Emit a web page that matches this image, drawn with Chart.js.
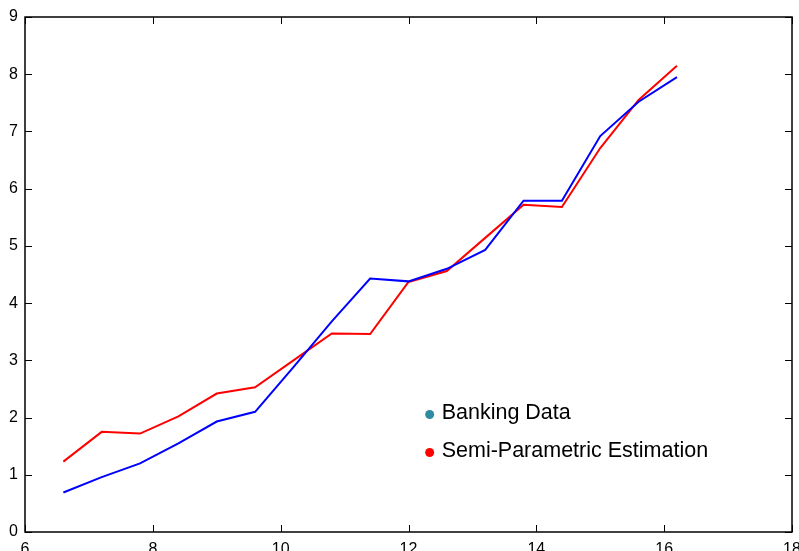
<!DOCTYPE html>
<html>
<head>
<meta charset="utf-8">
<script src="https://cdn.jsdelivr.net/npm/chart.js@4.4.1/dist/chart.umd.min.js"></script>
<style>
  html, body { margin: 0; padding: 0; background: #fff; }
  #wrap { width: 799px; height: 551px; }
</style>
</head>
<body>
<div id="wrap"><canvas id="chart" width="799" height="551"></canvas></div>
<script>
// values
const xValues = [6.6, 7.2, 7.8, 8.4, 9.0, 9.6, 10.2, 10.8, 11.4, 12.0, 12.6, 13.2, 13.8, 14.4, 15.0, 15.6, 16.2];
const bankingData = [0.69, 0.96, 1.20, 1.55, 1.93, 2.10, 2.88, 3.68, 4.43, 4.38, 4.60, 4.93, 5.79, 5.79, 6.92, 7.52, 7.95];
const semiParam = [1.23, 1.75, 1.72, 2.02, 2.42, 2.53, 3.00, 3.47, 3.46, 4.37, 4.56, 5.14, 5.72, 5.68, 6.71, 7.55, 8.15];
const seriesLabels = ['Banking Data', 'Semi-Parametric Estimation'];
const legendDots = ['#2f8aa3', '#ff0000'];
const xTicks = [6, 8, 10, 12, 14, 16, 18];
const yTicks = [0, 1, 2, 3, 4, 5, 6, 7, 8, 9];

const fontFamily = '"Liberation Sans", Arial, sans-serif';
const toPoints = ys => ys.map((y, i) => ({ x: xValues[i], y: y }));

// box round the plot, inward ticks on all four sides, and the inset legend
const framePlugin = {
    id: 'frame',
    afterDraw(chart) {
        const ctx = chart.ctx;
        const a = chart.chartArea;
        const xs = chart.scales.x, ys = chart.scales.y;
        const len = 7;
        ctx.save();
        ctx.strokeStyle = '#000';
        ctx.lineWidth = 1.5;
        ctx.strokeRect(a.left, a.top, a.right - a.left, a.bottom - a.top);
        ctx.lineWidth = 1;
        ctx.beginPath();
        xTicks.forEach(v => {
            const px = Math.round(xs.getPixelForValue(v)) + 0.5;
            ctx.moveTo(px, a.bottom); ctx.lineTo(px, a.bottom - len);
            ctx.moveTo(px, a.top); ctx.lineTo(px, a.top + len);
        });
        yTicks.forEach(v => {
            const py = Math.round(ys.getPixelForValue(v)) + 0.5;
            ctx.moveTo(a.left, py); ctx.lineTo(a.left + len, py);
            ctx.moveTo(a.right, py); ctx.lineTo(a.right - len, py);
        });
        ctx.stroke();

        // legend inside the plot
        ctx.font = '21.5px ' + fontFamily;
        ctx.textBaseline = 'middle';
        const lx = xs.getPixelForValue(12.3) - 2, ly = ys.getPixelForValue(2.07);
        seriesLabels.forEach((lab, i) => {
            const y = ly + i * 38;
            ctx.fillStyle = legendDots[i];
            ctx.beginPath();
            ctx.arc(lx + 4, y + 1, 4.5, 0, Math.PI * 2);
            ctx.fill();
            ctx.fillStyle = '#000';
            ctx.fillText(lab, lx + 16, y);
        });
        ctx.restore();
    }
};

const ctx = document.getElementById('chart').getContext('2d');
new Chart(ctx, {
    type: 'line',
    data: {
        datasets: [
            {
                label: seriesLabels[0],
                data: toPoints(bankingData),
                borderColor: '#0000ff',
                borderWidth: 2,
                pointRadius: 0,
                tension: 0
            },
            {
                label: seriesLabels[1],
                data: toPoints(semiParam),
                borderColor: '#ff0000',
                borderWidth: 2,
                pointRadius: 0,
                tension: 0
            }
        ]
    },
    options: {
        responsive: false,
        animation: false,
        layout: { padding: { top: 17, right: 7, left: 0, bottom: 0 } },
        plugins: {
            legend: { display: false },
            tooltip: { enabled: false }
        },
        scales: {
            x: {
                type: 'linear',
                min: 6,
                max: 18,
                afterBuildTicks: s => { s.ticks = xTicks.map(v => ({ value: v })); },
                afterFit: s => { s.height = 19; s.paddingLeft = 0; s.paddingRight = 0; },
                grid: { display: false },
                border: { display: false },
                ticks: {
                    padding: 0,
                    color: '#000',
                    maxRotation: 0,
                    autoSkip: false,
                    font: { family: fontFamily, size: 16 }
                }
            },
            y: {
                min: 0,
                max: 9,
                afterBuildTicks: s => { s.ticks = yTicks.map(v => ({ value: v })); },
                afterFit: s => { s.width = 25; s.paddingTop = 0; s.paddingBottom = 0; },
                grid: { display: false, drawTicks: false },
                border: { display: false },
                ticks: {
                    padding: 7,
                    color: '#000',
                    autoSkip: false,
                    font: { family: fontFamily, size: 16 }
                }
            }
        }
    },
    plugins: [framePlugin]
});
</script>
</body>
</html>
